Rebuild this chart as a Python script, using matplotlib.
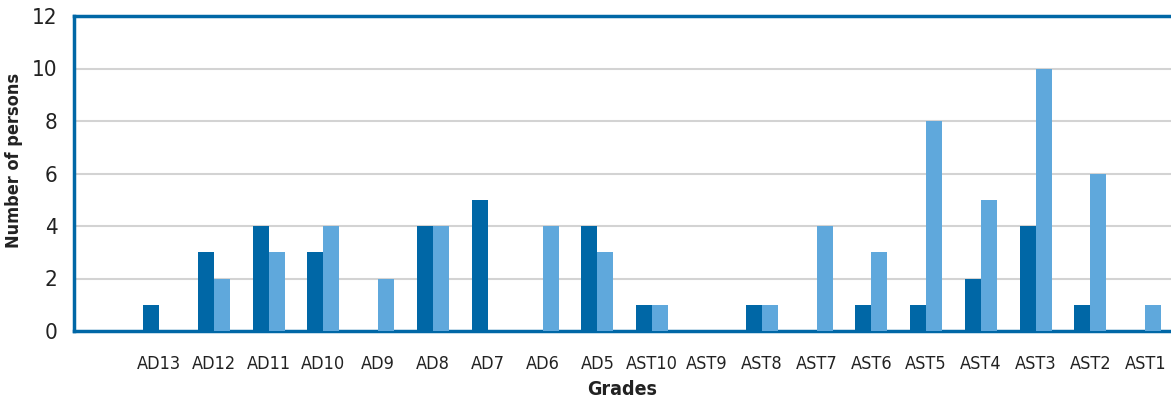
import matplotlib
matplotlib.use("Agg")
import matplotlib.pyplot as plt
import numpy as np

categories = ["AD13", "AD12", "AD11", "AD10", "AD9", "AD8", "AD7", "AD6", "AD5",
              "AST10", "AST9", "AST8", "AST7", "AST6", "AST5", "AST4", "AST3", "AST2", "AST1"]
series_dark = [1, 3, 4, 3, 0, 4, 5, 0, 4, 1, 0, 1, 0, 1, 1, 2, 4, 1, 0]
series_light = [0, 2, 3, 4, 2, 4, 0, 4, 3, 1, 0, 1, 4, 3, 8, 5, 10, 6, 1]
y_ticks = [0, 2, 4, 6, 8, 10, 12]

plt.rcParams['font.family'] = ['DejaVu Sans']
plt.rcParams['font.stretch'] = 'condensed'

DARK = "#0067A6"
LIGHT = "#5FA8DC"
TXT = "#222222"

W, H = 1171, 405
fig = plt.figure(figsize=(W / 100, H / 100), dpi=100)
ax = fig.add_axes([74 / W, (H - 331) / H, 1 - 74 / W, (331 - 16) / H])

x = np.arange(len(categories))
bw = 0.292
ax.bar(x - bw / 2, series_dark, width=bw, color=DARK, zorder=3)
ax.bar(x + bw / 2, series_light, width=bw, color=LIGHT, zorder=3)

ax.set_xlim(-1.552, 18.47)
ax.set_ylim(0, 12)
ax.set_yticks(y_ticks)
ax.set_yticklabels([str(t) for t in y_ticks], fontsize=16, color=TXT, fontstretch='condensed')
ax.set_xticks(x)
ax.set_xticklabels(categories, fontsize=13, color=TXT, fontstretch='condensed')
ax.tick_params(axis='both', length=0)
ax.tick_params(axis='y', pad=12)
ax.tick_params(axis='x', pad=17)

for v in y_ticks[1:-1]:
    ax.axhline(v, color="#d3d3d3", lw=1.5, zorder=1)

for s in ['left', 'top', 'bottom']:
    ax.spines[s].set_color(DARK)
    ax.spines[s].set_linewidth(2.5)
ax.spines['right'].set_visible(False)
ax.spines['bottom'].set_zorder(2)

ax.set_xlabel("Grades", fontsize=14, fontweight='bold', color=TXT, fontstretch='condensed')
ax.xaxis.set_label_coords((622 - 74) / (W - 74), -(380 - 331) / 315, transform=ax.transAxes)
ax.set_ylabel("Number of persons", fontsize=13, fontweight='bold', color=TXT, fontstretch='condensed')
ax.yaxis.set_label_coords(-(74 - 23) / (W - 74), (331 - 160) / 315, transform=ax.transAxes)

fig.savefig("out.png", dpi=100)
